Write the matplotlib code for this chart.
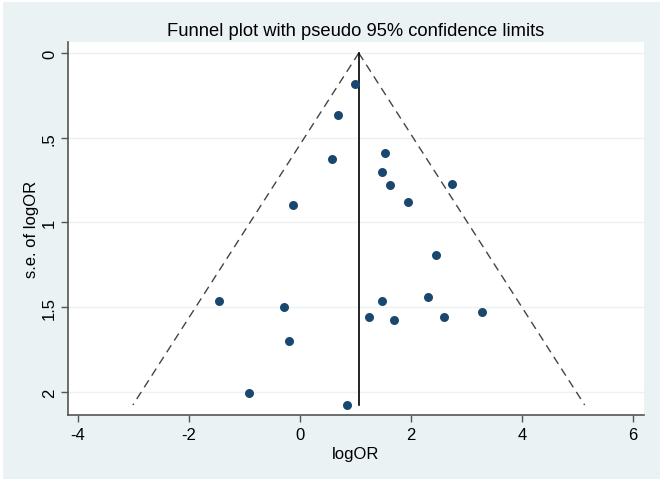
# Funnel plot with pseudo 95% confidence limits (Stata s2color look)
import numpy as np
import matplotlib.pyplot as plt
from matplotlib.patches import Rectangle

plt.rcParams['font.family'] = ['Liberation Sans', 'DejaVu Sans']
plt.rcParams['axes.unicode_minus'] = False

# Study estimates
log_or = [0.99, 0.69, 0.57, 1.53, 1.48, 1.63, 1.94, 2.74, -0.12, 2.45,
          -1.46, -0.29, -0.20, -0.92, 1.48, 1.24, 1.69, 2.31, 2.59, 3.28, 0.85]
se_log_or = [0.183, 0.366, 0.625, 0.59, 0.70, 0.78, 0.88, 0.77, 0.897, 1.19,
             1.463, 1.50, 1.70, 2.006, 1.463, 1.56, 1.575, 1.44, 1.557, 1.53, 2.077]

# Pooled (fixed-effect) estimate, as drawn
pooled = 1.06
max_se = max(se_log_or)

xticks = [-4, -2, 0, 2, 4, 6]
yticks = [0, 0.5, 1, 1.5, 2]
ytick_labels = ['0', '.5', '1', '1.5', '2']

bg = '#eaf2f3'
navy = '#1a476f'

fig = plt.figure(figsize=(6.64, 4.85), dpi=100, facecolor='white')
fig.patches.append(Rectangle((3 / 664, 5 / 485), 657 / 664, 477 / 485,
                             transform=fig.transFigure, facecolor=bg,
                             edgecolor='none', zorder=-1))
ax = fig.add_axes([68 / 664, 1 - 416 / 485, 576 / 664, 373 / 485])
ax.set_facecolor('white')

# Grid lines
for y in yticks:
    ax.axhline(y, color=bg, lw=1.0, zorder=0)

# Pseudo 95% confidence limits
se_line = np.array([0, max_se])
ax.plot(pooled - 1.96 * se_line, se_line, color='#444444', lw=1.0, ls=(0, (6, 4)))
ax.plot(pooled + 1.96 * se_line, se_line, color='#444444', lw=1.0, ls=(0, (6, 4)))
ax.plot([pooled, pooled], [0, max_se], color='black', lw=1.2)

ax.scatter(log_or, se_log_or, s=42, color=navy, zorder=3, linewidths=0)

ax.set_xlim(-4.18, 6.20)
ax.set_ylim(2.136, -0.065)
ax.set_xticks(xticks)
ax.set_yticks(yticks)
ax.set_yticklabels(ytick_labels, rotation=90, va='center')
ax.tick_params(axis='both', direction='out', length=5, width=1, color='#555555',
               labelsize=12, labelcolor='black')
ax.tick_params(axis='y', pad=3)

for side in ['top', 'right']:
    ax.spines[side].set_visible(False)
for side in ['left', 'bottom']:
    ax.spines[side].set_color('#555555')
    ax.spines[side].set_linewidth(1.2)

ax.set_xlabel('logOR', fontsize=12, labelpad=3)
ax.set_ylabel('s.e. of logOR', fontsize=12)
ax.yaxis.set_label_coords(-0.05, 0.5)
ax.set_title('Funnel plot with pseudo 95% confidence limits', fontsize=13.2, pad=5)

plt.savefig('out.png', dpi=100, facecolor=fig.get_facecolor())
